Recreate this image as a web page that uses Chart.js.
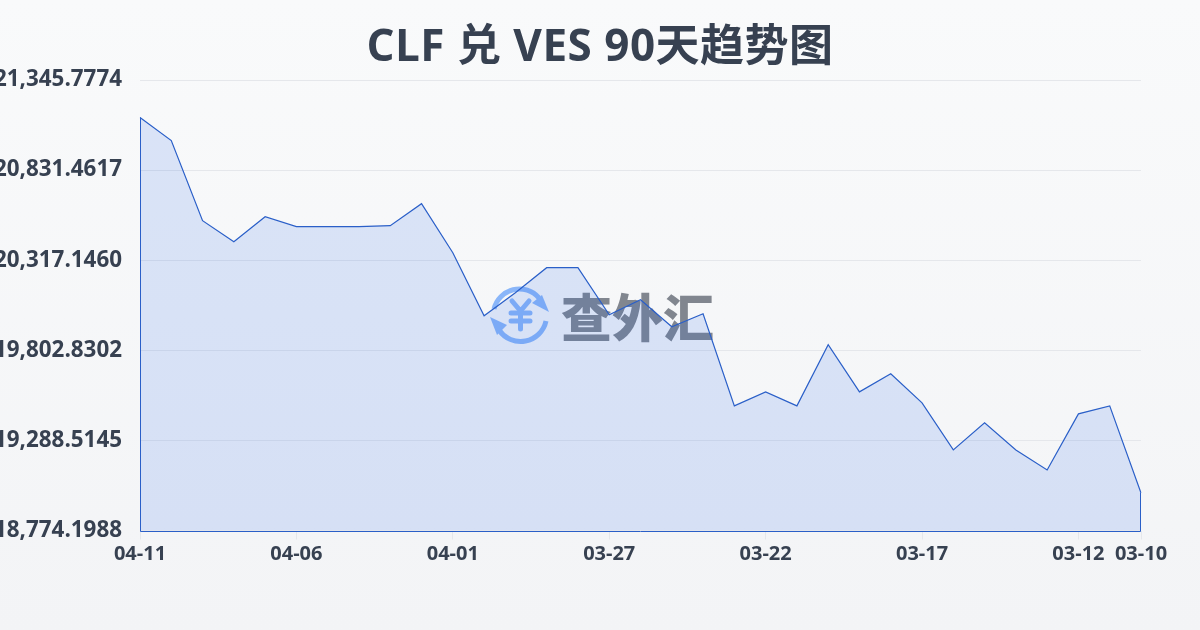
<!DOCTYPE html>
<html lang="zh-CN">
<head>
<meta charset="utf-8">
<title>CLF 兑 VES 90天趋势图</title>
<script src="https://cdn.jsdelivr.net/npm/chart.js@4/dist/chart.umd.min.js"></script>
<style>
html, body { margin: 0; padding: 0; }
body { width: 1200px; height: 630px; overflow: hidden; position: relative;
  background: linear-gradient(180deg, #f9fafb 0%, #f3f4f6 100%); }
#wrap { position: absolute; left: 0; top: 0; width: 1200px; height: 630px; z-index: 2; }
h1 { position: absolute; left: 0; top: 13px; width: 1200px; margin: 0; z-index: 3; text-align: center;
  font: 700 44px/62px "Open Sans", "Noto Sans CJK SC", sans-serif; letter-spacing: 0.5px; color: #374151; }
#mark { position: absolute; left: 489px; top: 284px; z-index: 1; display: flex; align-items: center; }
#mark span { font: 900 51px "Noto Sans CJK SC", sans-serif; color: #81868f; margin-left: 10px; line-height: 60px; }
</style>
</head>
<body>
<h1 id="chartTitle"></h1>
<div id="mark">
  <svg width="62" height="62" viewBox="0 0 62 62">
    <g fill="none" stroke="#8ab6f9" stroke-width="5">
      <path d="M5 25 A26 26 0 0 1 50 14"/>
      <path d="M57 37 A26 26 0 0 1 10 46"/>
    </g>
    <path d="M53 11 L60 28 L43 19 Z" fill="#8ab6f9"/>
    <path d="M1 33 L18 41 L8 51 Z" fill="#8ab6f9"/>
    <g fill="none" stroke="#8ab6f9" stroke-width="5" stroke-linecap="round">
      <path d="M23 17 L31.5 27 L40 17"/>
      <path d="M22 29 H41 M22 37 H41 M31.5 27 V45"/>
    </g>
  </svg>
  <span>查外汇</span>
</div>
<div id="wrap"><canvas id="trendChart" width="1200" height="630"></canvas></div>
<script>
const chartTitle = 'CLF 兑 VES 90天趋势图';
const dates = ['04-11','04-10','04-09','04-08','04-07','04-06','04-05','04-04','04-03','04-02','04-01',
  '03-31','03-30','03-29','03-28','03-27','03-26','03-25','03-24','03-23','03-22',
  '03-21','03-20','03-19','03-18','03-17','03-16','03-15','03-14','03-13','03-12','03-11','03-10'];
const rates = [21131.5,21000.0,20542.9,20422.9,20565.7,20508.6,20508.6,20508.6,20514.3,20640.0,20360.0,
  20000.0,20131.4,20274.3,20274.3,20005.7,20091.4,19937.1,20011.4,19485.7,19565.7,
  19485.7,19834.3,19565.7,19668.5,19502.8,19234.2,19388.5,19234.2,19119.9,19440.0,19485.7,18988.5];
const xTickLabels = ['04-11','04-06','04-01','03-27','03-22','03-17','03-12','03-10'];
const yTicks = [18774.1988,19288.5145,19802.8302,20317.1460,20831.4617,21345.7774];

const lineColor = '#2a5fc8';

document.getElementById('chartTitle').textContent = chartTitle;

// the area outline also runs down both sides and along the bottom
const areaEdge = {
    id: 'areaEdge',
    afterDatasetsDraw(chart) {
        const x = chart.scales.x, y = chart.scales.y, ctx = chart.ctx;
        const first = Math.round(x.getPixelForValue(0)) + 0.5;
        const last = Math.round(x.getPixelForValue(rates.length - 1)) - 0.5;
        const base = Math.round(y.getPixelForValue(yTicks[0])) + 0.5;
        ctx.save();
        ctx.strokeStyle = lineColor;
        ctx.lineWidth = 1;
        ctx.beginPath();
        ctx.moveTo(first, y.getPixelForValue(rates[0]));
        ctx.lineTo(first, base);
        ctx.lineTo(last, base);
        ctx.lineTo(last, y.getPixelForValue(rates[rates.length - 1]));
        ctx.stroke();
        ctx.restore();
    }
};

new Chart(document.getElementById('trendChart'), {
    type: 'line',
    data: {
        labels: dates,
        datasets: [{
            data: rates,
            borderColor: lineColor,
            borderWidth: 1.2,
            backgroundColor: 'rgba(37, 99, 235, 0.14)',
            fill: 'start',
            tension: 0,
            pointRadius: 0
        }]
    },
    options: {
        responsive: false,
        animation: false,
        layout: { padding: { left: 0, right: 59, top: 80, bottom: 60.5 } },
        scales: {
            x: {
                type: 'category',
                offset: false,
                grid: { drawOnChartArea: false, drawTicks: true, tickLength: 9, color: '#e5e7eb' },
                border: { display: false },
                afterBuildTicks(scale) {
                    scale.ticks = scale.ticks.filter(t => xTickLabels.includes(dates[t.value]));
                },
                ticks: {
                    autoSkip: false,
                    maxRotation: 0,
                    color: '#374151',
                    padding: 3,
                    font: { family: '"Open Sans", sans-serif', size: 20, weight: '700' },
                    callback(value) { return dates[value]; }
                }
            },
            y: {
                min: yTicks[0],
                max: yTicks[yTicks.length - 1],
                afterBuildTicks(scale) {
                    scale.ticks = yTicks.map(v => ({ value: v }));
                },
                afterFit(scale) { scale.width = 140; },
                grid: { color: '#e5e7eb', lineWidth: 1, drawTicks: false },
                border: { display: false },
                ticks: {
                    color: '#374151',
                    padding: 18,
                    font: { family: '"Open Sans", sans-serif', size: 22.4, weight: '700' },
                    callback(value) {
                        return value.toLocaleString('en-US', { minimumFractionDigits: 4, maximumFractionDigits: 4 });
                    }
                }
            }
        },
        plugins: {
            legend: { display: false },
            tooltip: { enabled: false }
        }
    },
    plugins: [areaEdge]
});
</script>
</body>
</html>
